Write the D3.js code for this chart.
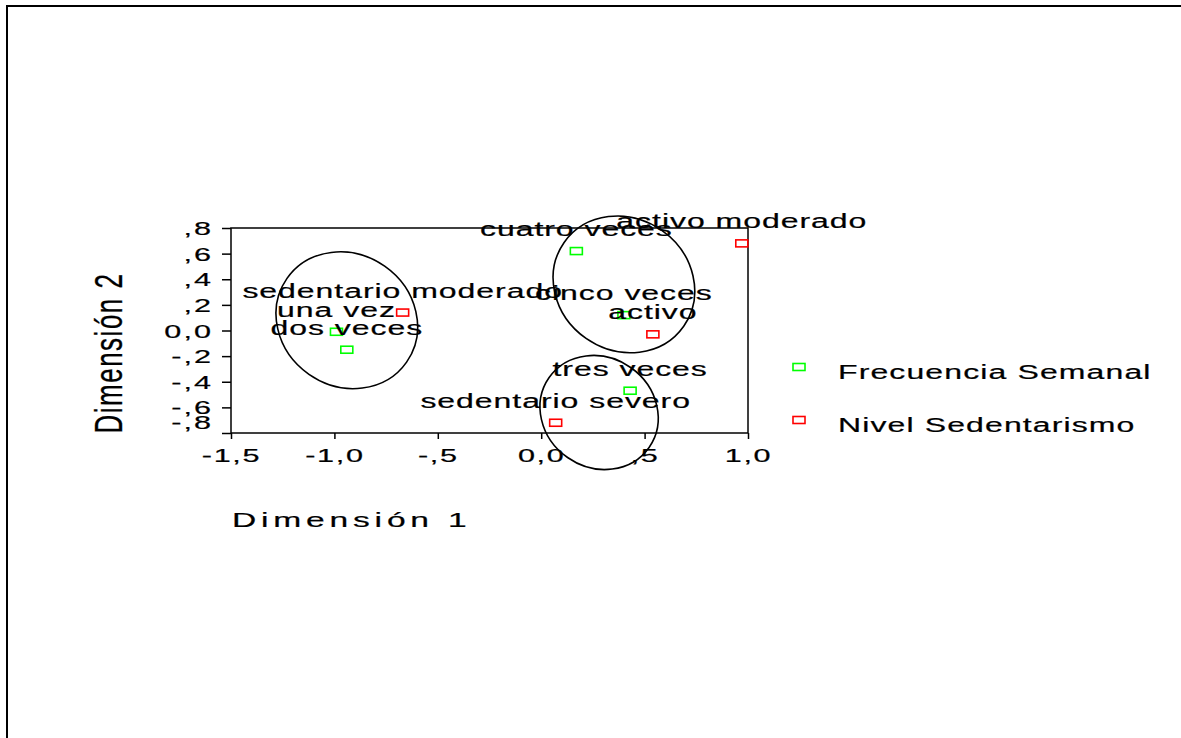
<!DOCTYPE html>
<html>
<head>
<meta charset="utf-8">
<script src="https://cdn.jsdelivr.net/npm/d3@7"></script>
<style>
  html, body { margin: 0; padding: 0; background: #fff; }
  svg { display: block; }
  text { font-family: "Liberation Sans", Arial, sans-serif; fill: #000; stroke: #000; stroke-width: 0.2px; }
</style>
</head>
<body>
<svg id="chart" width="1181" height="738"></svg>
<script>
// Category quantifications (joint plot of category points)
const freqLabels = ["una vez", "dos veces", "tres veces", "cuatro veces", "cinco veces"];
const freqDim1   = [-0.99, -0.94, 0.43, 0.17, 0.40];
const freqDim2   = [-0.01, -0.15, -0.47, 0.62, 0.12];

const sedLabels = ["sedentario severo", "sedentario moderado", "activo", "activo moderado"];
const sedDim1   = [0.07, -0.67, 0.54, 0.97];
const sedDim2   = [-0.72, 0.14, -0.03, 0.68];

// Group outlines: centre (dim1, dim2), half-axes (dim1 units, dim2 units)
const groupCx = [-0.94, 0.40, 0.28];
const groupCy = [0.08, 0.36, -0.64];
const groupA  = [0.353, 0.353, 0.295];
const groupB  = [0.515, 0.515, 0.429];

const xTicks = [-1.5, -1.0, -0.5, 0.0, 0.5, 1.0];
const xTickLabels = ["-1,5", "-1,0", "-,5", "0,0", ",5", "1,0"];
const yTicks = [0.8, 0.6, 0.4, 0.2, 0.0, -0.2, -0.4, -0.6, -0.8];
const yTickLabels = [",8", ",6", ",4", ",2", "0,0", "-,2", "-,4", "-,6", "-,8"];

const seriesNames = ["Frecuencia Semanal", "Nivel Sedentarismo"];
const seriesColors = ["#00ff00", "#ff0000"];

const SX = 1.6;      // horizontal text stretch
const SX_TICK = 1.7; // stretch for tick labels

const svg = d3.select("#chart");

// Outer frame (top and left edges)
svg.append("path")
  .attr("d", "M7,1181 V6 H1181")
  .attr("fill", "none").attr("stroke", "#000").attr("stroke-width", 2);

const x = d3.scaleLinear().domain([-1.5, 1.0]).range([231, 748]);
const y = d3.scaleLinear().domain([-0.8, 0.8]).range([433, 228]);

function stretched(sel, px, py, s) {
  return sel.attr("transform", `translate(${px},${py}) scale(${s || SX},1)`);
}

// Plot frame
svg.append("rect")
  .attr("x", x(-1.5)).attr("y", y(0.8))
  .attr("width", x(1.0) - x(-1.5)).attr("height", y(-0.8) - y(0.8))
  .attr("fill", "none").attr("stroke", "#000").attr("stroke-width", 1.5);

// X axis
const gx = svg.append("g").attr("transform", `translate(0,${y(-0.8)})`)
  .call(d3.axisBottom(x).tickValues(xTicks).tickSize(6).tickFormat((d, i) => xTickLabels[i]));
gx.select(".domain").remove();
gx.selectAll(".tick line").attr("stroke", "#000").attr("stroke-width", 1.5);
gx.selectAll(".tick text")
  .attr("y", null).attr("dy", null)
  .attr("transform", `translate(0,29) scale(${SX_TICK},1)`)
  .style("font-size", "18px").style("letter-spacing", "1px")
  .attr("fill", "#000").attr("text-anchor", "middle");

// Y axis
const gy = svg.append("g").attr("transform", `translate(${x(-1.5)},0)`)
  .call(d3.axisLeft(y).tickValues(yTicks).tickSize(9).tickFormat((d, i) => yTickLabels[i]));
gy.select(".domain").remove();
gy.selectAll(".tick line").attr("stroke", "#000").attr("stroke-width", 1.5);
gy.selectAll(".tick text")
  .attr("x", null).attr("dy", null)
  .attr("transform", (d, i) => `translate(-18,${i === yTicks.length - 1 ? -5 : 6.5}) scale(${SX_TICK},1)`)
  .style("font-size", "18px").style("letter-spacing", "1.2px")
  .attr("fill", "#000").attr("text-anchor", "end");

// Axis titles
stretched(svg.append("text"), 232, 527)
  .style("font-size", "21px").style("letter-spacing", "3px")
  .text("Dimensión 1");
svg.append("text")
  .attr("transform", `translate(122,353) scale(1.5,1) rotate(-90)`)
  .attr("text-anchor", "middle")
  .style("font-size", "26px").style("letter-spacing", "1.5px")
  .text("Dimensión 2");

// Group outlines
svg.append("g").selectAll("ellipse")
  .data(groupCx.map((cx, i) => ({ cx, cy: groupCy[i], a: groupA[i], b: groupB[i] })))
  .join("ellipse")
  .attr("cx", d => x(d.cx)).attr("cy", d => y(d.cy))
  .attr("rx", d => x(d.a) - x(0)).attr("ry", d => y(0) - y(d.b))
  .attr("transform", d => `rotate(35,${x(d.cx)},${y(d.cy)})`)
  .attr("fill", "none").attr("stroke", "#000").attr("stroke-width", 1.6);

const series = [
  { labels: freqLabels, d1: freqDim1, d2: freqDim2, color: seriesColors[0] },
  { labels: sedLabels, d1: sedDim1, d2: sedDim2, color: seriesColors[1] }
];

const MW = 12, MH = 7;

series.forEach(s => {
  const pts = s.labels.map((lab, i) => ({ lab, v1: s.d1[i], v2: s.d2[i] }));
  svg.append("g").selectAll("rect")
    .data(pts).join("rect")
    .attr("x", d => x(d.v1) - MW / 2).attr("y", d => y(d.v2) - MH / 2)
    .attr("width", MW).attr("height", MH)
    .attr("fill", "none").attr("stroke", s.color).attr("stroke-width", 1.6);
});

series.forEach(s => {
  const pts = s.labels.map((lab, i) => ({ lab, v1: s.d1[i], v2: s.d2[i] }));
  svg.append("g").selectAll("text")
    .data(pts).join("text")
    .attr("transform", d => `translate(${x(d.v1)},${y(d.v2) - 15}) scale(${SX},1)`)
    .attr("text-anchor", "middle")
    .style("font-size", "20px").style("letter-spacing", "0.6px")
    .text(d => d.lab);
});

// Legend
const legend = svg.append("g");
seriesNames.forEach((name, i) => {
  const cy = 367 + i * 53;
  legend.append("rect")
    .attr("x", 799 - MW / 2).attr("y", cy - MH / 2)
    .attr("width", MW).attr("height", MH)
    .attr("fill", "none").attr("stroke", seriesColors[i]).attr("stroke-width", 1.6);
  stretched(legend.append("text"), 838, cy + 12)
    .style("font-size", "20px").style("letter-spacing", "0.7px")
    .text(name);
});
</script>
</body>
</html>
